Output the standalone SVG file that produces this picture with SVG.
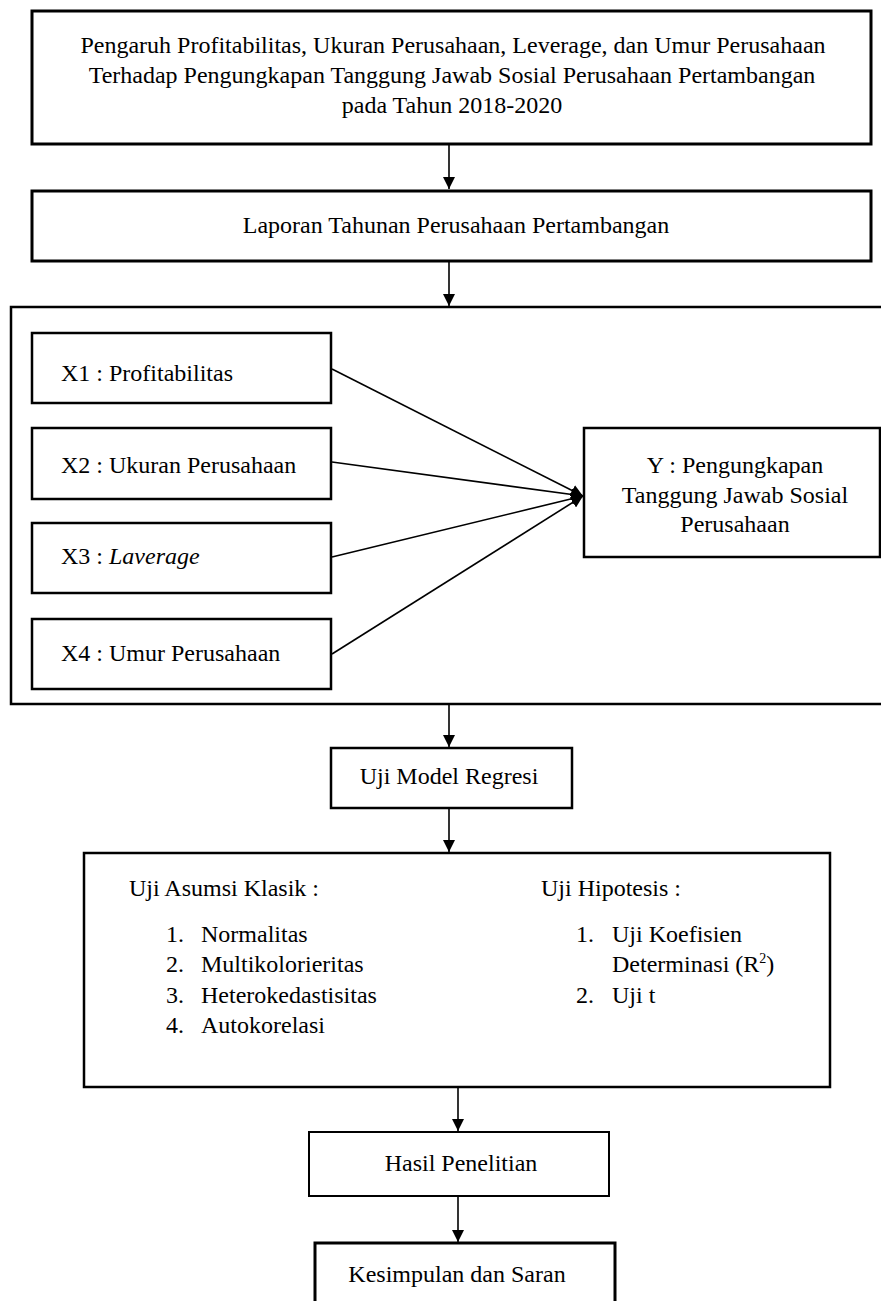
<svg xmlns="http://www.w3.org/2000/svg" width="881" height="1301" viewBox="0 0 881 1301">
<style>
text{font-family:"Liberation Serif","Times New Roman",serif;font-size:24px;fill:#000}
.c{text-anchor:middle}
.b{fill:#fff;stroke:#000}
.ln{stroke:#000;stroke-width:1.6;fill:none}
</style>
<defs>
<marker id="ah" viewBox="0 0 12 12" refX="12" refY="6" markerWidth="12" markerHeight="12" markerUnits="userSpaceOnUse" orient="auto">
<path d="M0,0 L12,6 L0,12 z" fill="#000"/>
</marker>
</defs>
<rect width="881" height="1301" fill="#fff"/>
<g id="judul">
<rect class="b" x="32" y="11" width="839" height="133" stroke-width="3"/>
<text class="c" x="453" y="53">Pengaruh Profitabilitas, Ukuran Perusahaan, Leverage, dan Umur Perusahaan</text>
<text class="c" x="452" y="83">Terhadap Pengungkapan Tanggung Jawab Sosial  Perusahaan Pertambangan</text>
<text class="c" x="452" y="113">pada Tahun 2018-2020</text>
</g>
<g id="laporan">
<rect class="b" x="32" y="191" width="839" height="70" stroke-width="3"/>
<text class="c" x="456" y="233">Laporan Tahunan Perusahaan Pertambangan</text>
</g>
<g id="model">
<rect class="b" x="11" y="307" width="885" height="397" stroke-width="2.5"/>
</g>
<g id="x1">
<rect class="b" x="32" y="333" width="299" height="70" stroke-width="2.5"/>
<text x="61" y="381">X1 : Profitabilitas</text>
</g>
<g id="x2">
<rect class="b" x="32" y="428" width="299" height="71" stroke-width="2.5"/>
<text x="61" y="473">X2 : Ukuran Perusahaan</text>
</g>
<g id="x3">
<rect class="b" x="32" y="523" width="299" height="70" stroke-width="2.5"/>
<text x="61" y="564">X3 : <tspan font-style="italic">Laverage</tspan></text>
</g>
<g id="x4">
<rect class="b" x="32" y="619" width="299" height="70" stroke-width="2.5"/>
<text x="61" y="661">X4 : Umur Perusahaan</text>
</g>
<g id="y">
<rect class="b" x="584" y="428" width="296" height="129" stroke-width="2.5"/>
<text class="c" x="735" y="473">Y : Pengungkapan</text>
<text class="c" x="735" y="503">Tanggung Jawab Sosial</text>
<text class="c" x="735" y="532">Perusahaan</text>
</g>
<g id="uji-model">
<rect class="b" x="331" y="748" width="241" height="60" stroke-width="2.5"/>
<text class="c" x="449" y="784">Uji Model Regresi</text>
</g>
<g id="uji">
<rect class="b" x="84" y="853" width="746" height="234" stroke-width="2.5"/>
<text x="129" y="896">Uji Asumsi Klasik :</text>
<text x="166" y="942">1.</text><text x="201" y="942">Normalitas</text>
<text x="166" y="972">2.</text><text x="201" y="972">Multikolorieritas</text>
<text x="166" y="1003">3.</text><text x="201" y="1003">Heterokedastisitas</text>
<text x="166" y="1033">4.</text><text x="201" y="1033">Autokorelasi</text>
<text x="541" y="896">Uji Hipotesis :</text>
<text x="576" y="942">1.</text><text x="612" y="942">Uji Koefisien</text>
<text x="612" y="972">Determinasi (R<tspan font-size="14" dy="-9">2</tspan><tspan dy="9">)</tspan></text>
<text x="576" y="1003">2.</text><text x="612" y="1003">Uji t</text>
</g>
<g id="hasil">
<rect class="b" x="309" y="1132" width="300" height="64" stroke-width="2"/>
<text class="c" x="461" y="1171">Hasil Penelitian</text>
</g>
<g id="kesimpulan">
<rect class="b" x="315" y="1243" width="300" height="80" stroke-width="3"/>
<text class="c" x="457" y="1282">Kesimpulan dan Saran</text>
</g>
<g id="connectors">
<line class="ln" x1="449" y1="145" x2="449" y2="189" marker-end="url(#ah)"/>
<line class="ln" x1="449" y1="262" x2="449" y2="306" marker-end="url(#ah)"/>
<line class="ln" x1="332" y1="369" x2="583" y2="496" marker-end="url(#ah)"/>
<line class="ln" x1="332" y1="462" x2="583" y2="496" marker-end="url(#ah)"/>
<line class="ln" x1="332" y1="557" x2="583" y2="496" marker-end="url(#ah)"/>
<line class="ln" x1="332" y1="654" x2="583" y2="496" marker-end="url(#ah)"/>
<line class="ln" x1="449" y1="705" x2="449" y2="747" marker-end="url(#ah)"/>
<line class="ln" x1="449" y1="809" x2="449" y2="852" marker-end="url(#ah)"/>
<line class="ln" x1="458" y1="1088" x2="458" y2="1131" marker-end="url(#ah)"/>
<line class="ln" x1="458" y1="1197" x2="458" y2="1242" marker-end="url(#ah)"/>
</g>
</svg>
